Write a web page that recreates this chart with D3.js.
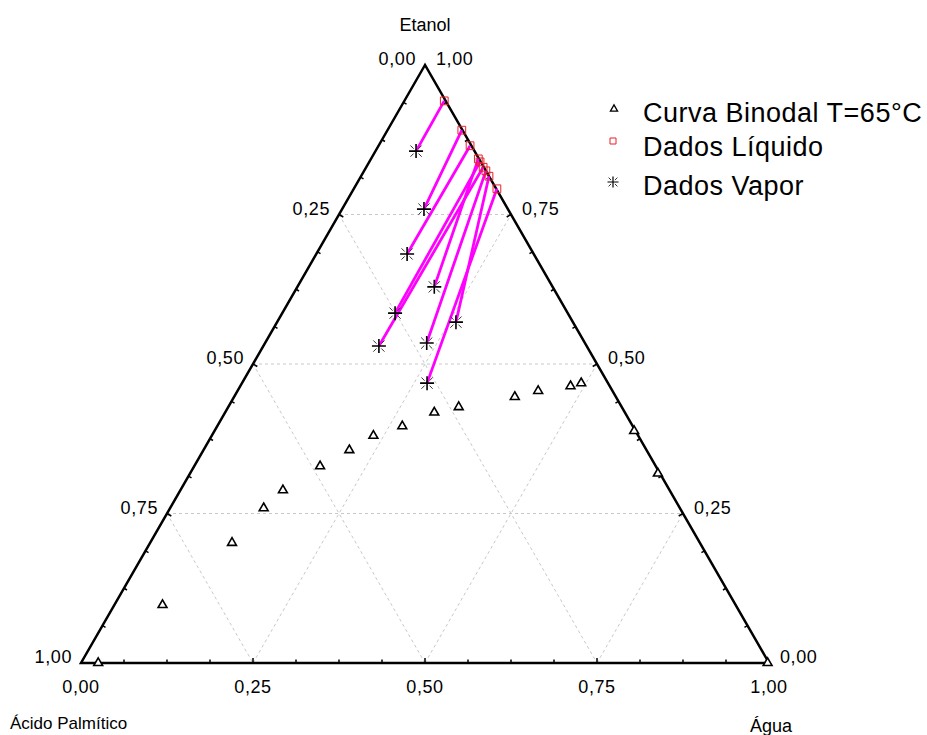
<!DOCTYPE html>
<html>
<head>
<meta charset="utf-8">
<script src="https://cdn.jsdelivr.net/npm/d3@7"></script>
<style>
  body { margin: 0; background: #fff; }
  text { font-family: "Liberation Sans", Arial, sans-serif; fill: #000; }
</style>
</head>
<body>
<div id="chart"></div>
<script>
// fractions: agua (water), etanol; acido palmitico = 1 - agua - etanol
var binodalAgua   = [0.025, 0.070, 0.119, 0.136, 0.149, 0.183, 0.212, 0.235, 0.269, 0.304, 0.335, 0.408, 0.437, 0.480, 0.493, 0.610, 0.680, 0.998];
var binodalEtanol = [0.000, 0.097, 0.201, 0.259, 0.289, 0.329, 0.356, 0.380, 0.396, 0.419, 0.428, 0.445, 0.455, 0.463, 0.468, 0.388, 0.317, 0.000];

var liqAgua   = [0.058, 0.108, 0.133, 0.156, 0.161, 0.170, 0.177, 0.186, 0.208];
var liqEtanol = [0.940, 0.891, 0.865, 0.843, 0.838, 0.829, 0.823, 0.814, 0.793];

var vapAgua   = [0.059, 0.119, 0.132, 0.199, 0.164, 0.168, 0.235, 0.260, 0.269];
var vapEtanol = [0.856, 0.759, 0.684, 0.629, 0.585, 0.530, 0.535, 0.570, 0.468];

var tickValues = [0, 0.25, 0.5, 0.75, 1];
var gridValues = [0.25, 0.5, 0.75];
var legendLabels = ["Curva Binodal T=65°C", "Dados Líquido", "Dados Vapor"];

var width = 927, height = 735;
var svg = d3.select("#chart").append("svg").attr("width", width).attr("height", height);

var xScale = d3.scaleLinear().domain([0, 1]).range([81, 769]);
var yScale = d3.scaleLinear().domain([0, 1]).range([663, 65]);
var fmt = function(v) { return d3.format(".2f")(v).replace(".", ","); };

// position from (agua, etanol)
function px(w, e) { return xScale(w + e / 2); }
function py(w, e) { return yScale(e); }

// dashed grid
var grid = svg.append("g").attr("stroke", "#c8c8c8").attr("stroke-width", 1).attr("stroke-dasharray", "3,3").attr("fill", "none");
gridValues.forEach(function(t) {
    grid.append("line").attr("x1", px(0, t)).attr("y1", py(0, t)).attr("x2", px(1 - t, t)).attr("y2", py(1 - t, t));
    grid.append("line").attr("x1", px(t, 0)).attr("y1", py(t, 0)).attr("x2", px(t, 1 - t)).attr("y2", py(t, 1 - t));
    grid.append("line").attr("x1", px(0, 1 - t)).attr("y1", py(0, 1 - t)).attr("x2", px(1 - t, 0)).attr("y2", py(1 - t, 0));
});

// triangle frame
var corners = [[0, 1], [0, 0], [1, 0]];
svg.append("path")
    .attr("d", "M" + corners.map(function(c) { return px(c[0], c[1]) + "," + py(c[0], c[1]); }).join("L") + "Z")
    .attr("fill", "none").attr("stroke", "#000").attr("stroke-width", 2.5).attr("stroke-linejoin", "miter");

// small ticks, pointing inside
var tickG = svg.append("g").attr("stroke", "#000").attr("stroke-width", 1.5);
d3.range(1, 16).forEach(function(i) {
    var t = i / 16, len = (i % 4 === 0) ? 5 : 3.5;
    tickG.append("line").attr("x1", px(t, 0)).attr("y1", py(t, 0)).attr("x2", px(t, 0)).attr("y2", py(t, 0) - len);
    var lx = px(0, 1 - t), ly = py(0, 1 - t);
    tickG.append("line").attr("x1", lx).attr("y1", ly).attr("x2", lx + len * 0.866).attr("y2", ly + len * 0.5);
    var rx = px(1 - t, t), ry = py(1 - t, t);
    tickG.append("line").attr("x1", rx).attr("y1", ry).attr("x2", rx - len * 0.866).attr("y2", ry + len * 0.5);
});

// tick labels
var lab = svg.append("g").style("font-size", "18px").style("letter-spacing", "0.6px");
tickValues.forEach(function(t) {
    lab.append("text").attr("x", px(t, 0)).attr("y", py(t, 0) + 24).attr("dy", "0.35em")
        .attr("text-anchor", "middle").text(fmt(t));
    lab.append("text").attr("x", px(0, 1 - t) - 9).attr("y", py(0, 1 - t) - 6).attr("dy", "0.35em")
        .attr("text-anchor", "end").text(fmt(t));
    lab.append("text").attr("x", px(1 - t, t) + 11).attr("y", py(1 - t, t) - 6).attr("dy", "0.35em")
        .attr("text-anchor", "start").text(fmt(t));
});

// axis titles
svg.append("text").attr("x", 425).attr("y", 25).attr("dy", "0.35em").attr("text-anchor", "middle")
    .style("font-size", "18px").text("Etanol");
svg.append("text").attr("x", 10).attr("y", 723).attr("dy", "0.35em")
    .style("font-size", "17px").text("Ácido Palmítico");
svg.append("text").attr("x", 771).attr("y", 726).attr("dy", "0.35em").attr("text-anchor", "middle")
    .style("font-size", "18px").text("Água");

// tie lines
svg.append("g").selectAll("line").data(d3.range(liqAgua.length)).enter().append("line")
    .attr("x1", function(i) { return px(liqAgua[i], liqEtanol[i]); })
    .attr("y1", function(i) { return py(liqAgua[i], liqEtanol[i]); })
    .attr("x2", function(i) { return px(vapAgua[i], vapEtanol[i]); })
    .attr("y2", function(i) { return py(vapAgua[i], vapEtanol[i]); })
    .attr("stroke", "#ff00ff").attr("stroke-width", 2.8);

var triSym = d3.symbol().type(d3.symbolTriangle).size(34);
var sqSym = d3.symbol().type(d3.symbolSquare).size(60);
function starMain(r) {
    return "M" + (-r) + ",0L" + r + ",0M0," + (-r) + "L0," + r;
}
function starDiag(r) {
    var a = r * 0.35, b = r * 0.8;
    return "M" + (-b) + "," + (-b) + "L" + (-a) + "," + (-a) + "M" + a + "," + a + "L" + b + "," + b +
        "M" + (-b) + "," + b + "L" + (-a) + "," + a + "M" + a + "," + (-a) + "L" + b + "," + (-b);
}
function drawStar(g, x, y, r, w) {
    var s = g.append("g").attr("transform", "translate(" + x + "," + y + ")");
    s.append("path").attr("d", starMain(r)).attr("stroke", "#000").attr("stroke-width", w).attr("fill", "none");
    s.append("path").attr("d", starDiag(r)).attr("stroke", "#333").attr("stroke-width", 1).attr("fill", "none");
}

// binodal points
svg.append("g").selectAll("path").data(d3.range(binodalAgua.length)).enter().append("path")
    .attr("d", triSym)
    .attr("transform", function(i) { return "translate(" + px(binodalAgua[i], binodalEtanol[i]) + "," + py(binodalAgua[i], binodalEtanol[i]) + ")"; })
    .attr("fill", "#fff").attr("stroke", "#000").attr("stroke-width", 1.6);

// liquid points
svg.append("g").selectAll("path").data(d3.range(liqAgua.length)).enter().append("path")
    .attr("d", sqSym)
    .attr("transform", function(i) { return "translate(" + px(liqAgua[i], liqEtanol[i]) + "," + py(liqAgua[i], liqEtanol[i]) + ")"; })
    .attr("fill", "none").attr("stroke", "#e8202a").attr("stroke-width", 1);

// vapor points
var vapG = svg.append("g");
d3.range(vapAgua.length).forEach(function(i) {
    drawStar(vapG, px(vapAgua[i], vapEtanol[i]), py(vapAgua[i], vapEtanol[i]), 7, 1.6);
});

// legend
var legend = svg.append("g");
var rowY = [109, 141, 182], textY = [122, 156, 195];
legend.append("path").attr("d", d3.symbol().type(d3.symbolTriangle).size(22))
    .attr("transform", "translate(614," + rowY[0] + ")").attr("fill", "none").attr("stroke", "#000").attr("stroke-width", 1.3);
legend.append("path").attr("d", d3.symbol().type(d3.symbolSquare).size(36))
    .attr("transform", "translate(613," + rowY[1] + ")").attr("fill", "none").attr("stroke", "#e8202a").attr("stroke-width", 1);
drawStar(legend, 613, rowY[2], 5.5, 1.2);
legendLabels.forEach(function(s, i) {
    legend.append("text").attr("x", 643).attr("y", textY[i]).style("font-size", "27px")
        .style("letter-spacing", "0.5px").text(s);
});
</script>
</body>
</html>
